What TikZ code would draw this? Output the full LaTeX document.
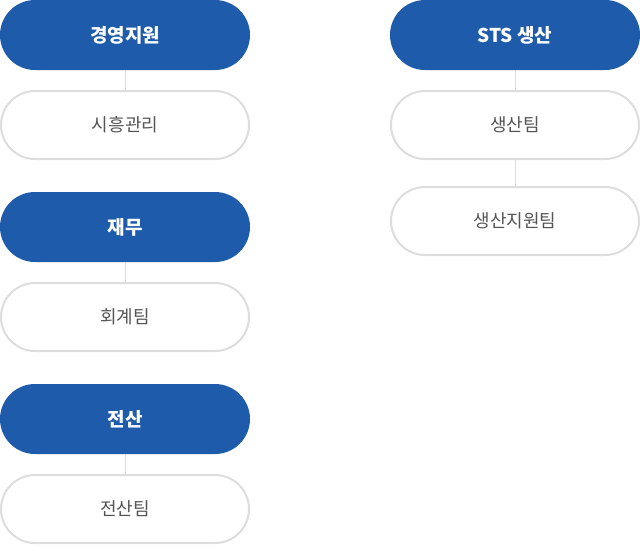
\documentclass[tikz,border=0pt]{standalone}
\usepackage{fontspec}
\setmainfont{Noto Sans CJK KR}
\usetikzlibrary{positioning}
\definecolor{deptblue}{RGB}{30, 91, 170}
\definecolor{teamgray}{RGB}{221, 221, 221}
\definecolor{teamtext}{RGB}{85, 85, 85}

\begin{document}
\begin{tikzpicture}[
    dept/.style={fill=deptblue, rounded corners=35pt, minimum width=250pt, minimum height=70pt, inner sep=0pt, outer sep=0pt, text=white, font=\fontsize{19}{22}\selectfont\bfseries},
    team/.style={draw=teamgray, line width=2pt, fill=white, rounded corners=34pt, minimum width=248pt, minimum height=68pt, inner sep=0pt, outer sep=0pt, text=teamtext, font=\fontsize{18}{21}\selectfont},
    conn/.style={draw=teamgray, line width=1pt}
]
\useasboundingbox (0,0) rectangle (640pt,-550pt);

% left column
\node[dept] (mgmt) at (125pt,-35pt) {경영지원};
\node[team, below=21pt of mgmt] (exam) {시흥관리};
\node[dept, below=33pt of exam] (fin) {재무};
\node[team, below=21pt of fin] (acct) {회계팀};
\node[dept, below=33pt of acct] (it) {전산};
\node[team, below=21pt of it] (itteam) {전산팀};

% right column
\node[dept] (sts) at (515pt,-35pt) {STS 생산};
\node[team, below=21pt of sts] (prod) {생산팀};
\node[team, below=28pt of prod] (prodsup) {생산지원팀};

\draw[conn] (mgmt) -- (exam);
\draw[conn] (fin) -- (acct);
\draw[conn] (it) -- (itteam);
\draw[conn] (sts) -- (prod);
\draw[conn] (prod) -- (prodsup);

\end{tikzpicture}
\end{document}
